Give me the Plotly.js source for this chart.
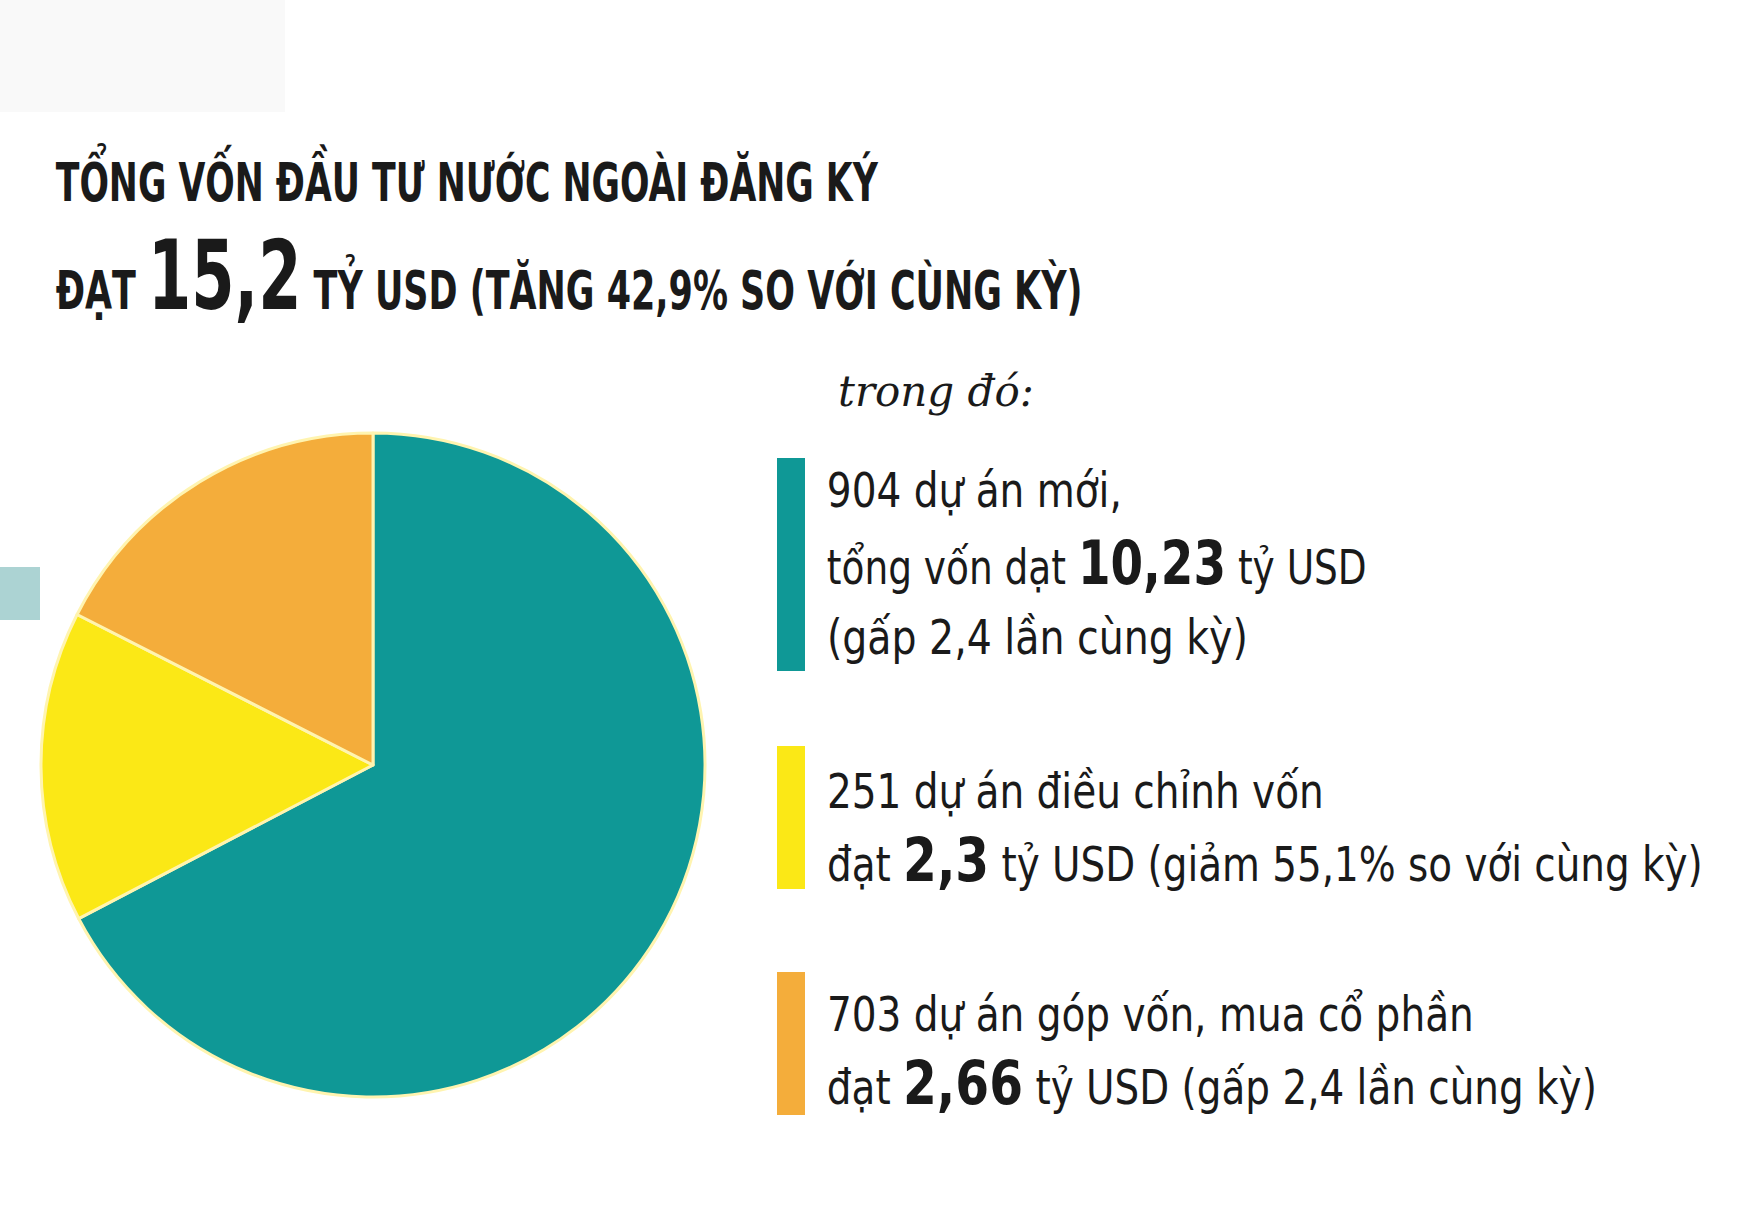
<!DOCTYPE html>
<html>
<head>
<meta charset="utf-8">
<script src="https://cdn.plot.ly/plotly-3.0.1.min.js"></script>
<style>html,body{margin:0;padding:0;background:#fff;}#chart{width:1760px;height:1224px;}</style>
</head>
<body>
<div id="chart"></div>
<script>
// Data
const categories = ["904 dự án mới", "251 dự án điều chỉnh vốn", "703 dự án góp vốn, mua cổ phần"];
const values = [10.23, 2.3, 2.66];
const colors = ["#0f9896", "#fbe816", "#f4ad3b"];
const titleLine1 = "TỔNG VỐN ĐẦU TƯ NƯỚC NGOÀI ĐĂNG KÝ";
const titleTotal = "15,2";
const legendLines = [
  ["904 dự án mới,", "tổng vốn dạt <b>10,23</b> tỷ USD", "(gấp 2,4 lần cùng kỳ)"],
  ["251 dự án điều chỉnh vốn", "đạt <b>2,3</b> tỷ USD (giảm 55,1% so với cùng kỳ)"],
  ["703 dự án góp vốn, mua cổ phần", "đạt <b>2,66</b> tỷ USD (gấp 2,4 lần cùng kỳ)"]
];

const W = 1760, H = 1224;
const px = x => x / W;
const py = y => 1 - y / H;
const FONT = "DejaVu Sans Condensed, Liberation Sans Narrow, Arial Narrow, sans-serif";

const pie = {
  type: "pie",
  values: values,
  labels: categories,
  sort: false,
  direction: "clockwise",
  rotation: 0,
  textinfo: "none",
  hoverinfo: "label+value",
  marker: { colors: colors, line: { color: "#fff4b0", width: 3 } },
  domain: { x: [px(373 - 332), px(373 + 332)], y: [py(765 + 332), py(765 - 332)] },
  showlegend: false
};

const annotations = [];
const shapes = [];
const fitRight = []; // right edge (px) each annotation text should reach, null = leave as is

// faint decorative block top-left and teal tab at left
shapes.push({ type: "rect", xref: "paper", yref: "paper", x0: 0, x1: px(285), y0: py(112), y1: 1, fillcolor: "#f9f9f9", line: { width: 0 }, layer: "below" });
shapes.push({ type: "rect", xref: "paper", yref: "paper", x0: 0, x1: px(40), y0: py(620), y1: py(567), fillcolor: "#acd3d3", line: { width: 0 } });

// Title
annotations.push({ xref: "paper", yref: "paper", x: px(54), y: py(178), xanchor: "left", yanchor: "middle", showarrow: false,
  text: "<b>" + titleLine1 + "</b>", font: { family: FONT, size: 54, color: "#1a1a1a" } });
fitRight.push(879);
annotations.push({ xref: "paper", yref: "paper", x: px(54), y: py(276), xanchor: "left", yanchor: "middle", showarrow: false,
  text: "<b>ĐẠT <span style='font-size:96px'>" + titleTotal + "</span> TỶ USD (TĂNG 42,9% SO VỚI CÙNG KỲ)</b>",
  font: { family: FONT, size: 54, color: "#1a1a1a" } });
fitRight.push(1083);

// "trong đó:"
annotations.push({ xref: "paper", yref: "paper", x: px(836), y: py(392), xanchor: "left", yanchor: "middle", showarrow: false,
  text: "<i>trong đó:</i>", font: { family: "DejaVu Serif, Liberation Serif, serif", size: 42, color: "#1a1a1a" } });
fitRight.push(null);

// Legend bars and text
const barTops = [458, 746, 972];
const barBots = [671, 889, 1115];
const lineYs = [[490, 563, 637], [791, 860], [1014, 1083]];
const lineRights = [[1122, 1367, 1248], [1324, 1703], [1474, 1597]];
for (let i = 0; i < categories.length; i++) {
  shapes.push({ type: "rect", xref: "paper", yref: "paper", x0: px(777), x1: px(805), y0: py(barBots[i]), y1: py(barTops[i]),
    fillcolor: colors[i], line: { width: 0 } });
  legendLines[i].forEach((t, j) => {
    const big = t.replace(/<b>(.*?)<\/b>/, "<b><span style='font-size:60px'>$1</span></b>");
    annotations.push({ xref: "paper", yref: "paper", x: px(825), y: py(lineYs[i][j]), xanchor: "left", yanchor: "middle", showarrow: false,
      text: big, font: { family: FONT, size: 48, color: "#1a1a1a" } });
    fitRight.push(lineRights[i][j]);
  });
}

const layout = {
  width: W, height: H,
  margin: { l: 0, r: 0, t: 0, b: 0 },
  paper_bgcolor: "#ffffff",
  plot_bgcolor: "#ffffff",
  annotations: annotations,
  shapes: shapes
};

Plotly.newPlot("chart", [pie], layout, { displayModeBar: false, staticPlot: true }).then(gd => {
  // condense text horizontally to mimic the narrow display typeface of the original
  const anns = gd.querySelectorAll(".annotation");
  const root = gd.getBoundingClientRect();
  anns.forEach((a, i) => {
    const target = fitRight[i];
    if (target == null) return;
    const g = a.querySelector(".annotation-text-g");
    const txt = g.querySelector("text");
    const r = txt.getBoundingClientRect();
    const left = r.left - root.left;
    const s = (target - left) / r.width;
    const bb = g.getBBox();
    const prev = g.getAttribute("transform") || "";
    g.setAttribute("transform", prev + " translate(" + (bb.x * (1 - s)) + ",0) scale(" + s + ",1)");
  });
});
</script>
</body>
</html>
